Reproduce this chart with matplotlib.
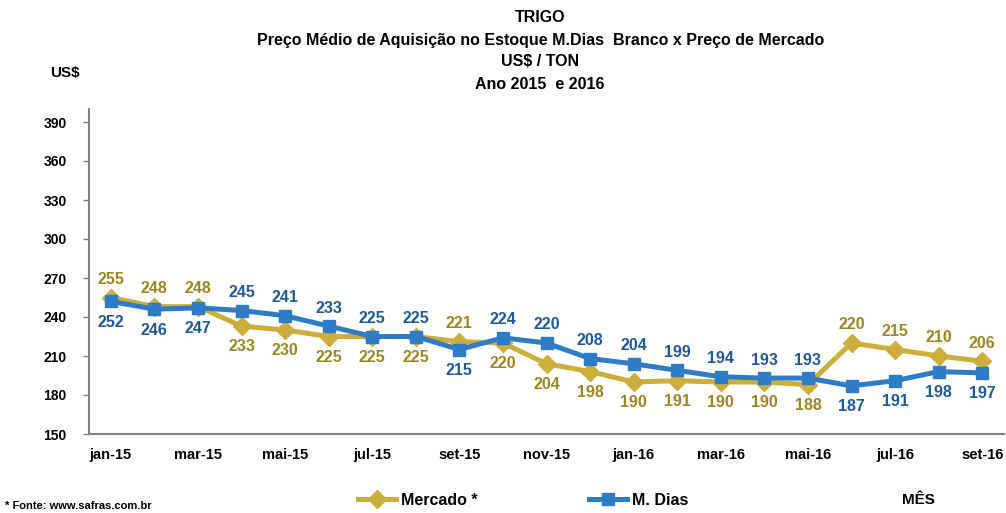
import matplotlib
matplotlib.use("Agg")
import matplotlib.pyplot as plt

months = ["jan-15", "fev-15", "mar-15", "abr-15", "mai-15", "jun-15", "jul-15",
          "ago-15", "set-15", "out-15", "nov-15", "dez-15", "jan-16", "fev-16",
          "mar-16", "abr-16", "mai-16", "jun-16", "jul-16", "ago-16", "set-16"]
mercado = [255, 248, 248, 233, 230, 225, 225, 225, 221, 220, 204, 198, 190, 191,
           190, 190, 188, 220, 215, 210, 206]
mdias = [252, 246, 247, 245, 241, 233, 225, 225, 215, 224, 220, 208, 204, 199,
         194, 193, 193, 187, 191, 198, 197]
yticks = [150, 180, 210, 240, 270, 300, 330, 360, 390]

GOLD = "#CDAE3C"
BLUE = "#2E7CC6"
GOLD_TXT = "#9E8522"
BLUE_TXT = "#1D5A9C"

plt.rcParams["font.family"] = ["Liberation Sans", "DejaVu Sans"]
plt.rcParams["font.weight"] = "bold"

fig = plt.figure(figsize=(10.06, 5.13), dpi=100)
ax = fig.add_axes([89 / 1006, 1 - 434 / 513, 915 / 1006, 325 / 513])

x = list(range(len(months)))
ax.plot(x, mercado, color=GOLD, lw=3.6, marker="D", ms=9, zorder=2, label="Mercado *")
ax.plot(x, mdias, color=BLUE, lw=3.6, marker="s", ms=8.5, zorder=3, label="M. Dias")

# higher series gets its label above the point, lower one below
for i, (m, d) in enumerate(zip(mercado, mdias)):
    m_up = m > d
    ax.annotate(str(m), (i, m), xytext=(0, 13 if m_up else -15), textcoords="offset points",
                ha="center", va="center", fontsize=11.5, fontweight="bold", color=GOLD_TXT)
    ax.annotate(str(d), (i, d), xytext=(0, -15 if m_up else 13), textcoords="offset points",
                ha="center", va="center", fontsize=11.5, fontweight="bold", color=BLUE_TXT)

ax.set_xlim(-0.5, len(months) - 0.5)
ax.set_ylim(150, 400)
ax.set_yticks(yticks)
ax.set_yticklabels([str(t) for t in yticks], fontsize=10, fontweight="bold")
ax.set_xticks(x[::2])
ax.set_xticklabels(months[::2], fontsize=10.5, fontweight="bold")
ax.tick_params(axis="x", length=0, pad=10)
ax.tick_params(axis="y", length=4, width=1, color="#808080", pad=12, direction="out")
for side in ["top", "right"]:
    ax.spines[side].set_visible(False)
ax.spines["left"].set_color("#808080")
ax.spines["bottom"].set_color("#808080")
ax.spines["left"].set_linewidth(1.5)
ax.spines["bottom"].set_linewidth(1.5)

fig.text(0.537, 0.965, "TRIGO", ha="center", va="center", fontsize=11.5, fontweight="bold")
fig.text(0.537, 0.922, "Preço Médio de Aquisição no Estoque M.Dias  Branco x Preço de Mercado",
         ha="center", va="center", fontsize=11.5, fontweight="bold")
fig.text(0.537, 0.880, "US$ / TON", ha="center", va="center", fontsize=11.5, fontweight="bold")
fig.text(0.537, 0.836, "Ano 2015  e 2016", ha="center", va="center", fontsize=11.5, fontweight="bold")
fig.text(0.05, 0.858, "US$", ha="left", va="center", fontsize=11, fontweight="bold")
fig.text(0.897, 0.025, "MÊS", ha="left", va="center", fontsize=11, fontweight="bold")
fig.text(0.005, 0.014, "* Fonte: www.safras.com.br", ha="left", va="center", fontsize=8, fontweight="bold")

fig.legend(loc="center", bbox_to_anchor=(0.52, 0.025), ncol=2, frameon=False,
           handlelength=2.4, columnspacing=7, handletextpad=0.3,
           prop={"weight": "bold", "size": 11.5})

fig.savefig("out.png", dpi=100)
